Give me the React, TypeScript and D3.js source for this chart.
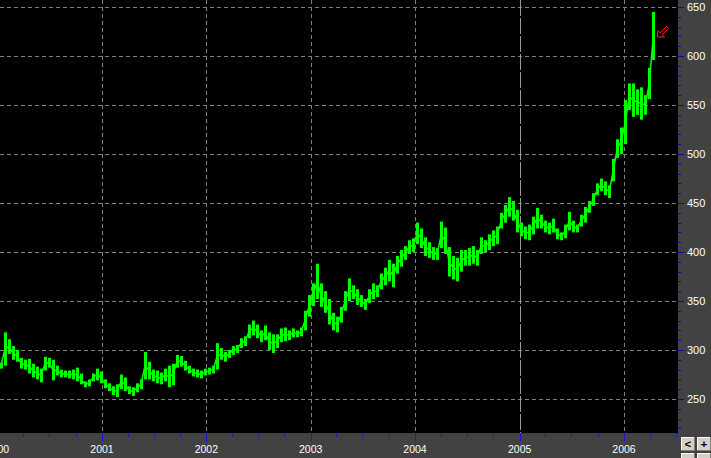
import React from "react";
import * as d3 from "d3";

const START = new Date(2000, 0, 10);
const STEP_DAYS = 14;

const highs = [
  287, 318, 311, 304, 300, 292, 290, 291, 286, 283, 281, 293, 292, 290, 284, 280, 279, 279, 280, 282,
  276, 268, 270, 276, 281, 278, 270, 266, 263, 265, 275, 272, 263, 262, 266, 270, 298, 288, 280, 279,
  277, 281, 284, 286, 295, 294, 289, 284, 281, 280, 279, 281, 282, 284, 307, 302, 298, 300, 304, 305,
  312, 314, 326, 330, 326, 320, 325, 318, 316, 316, 322, 323, 320, 322, 320, 323, 340, 356, 368, 388,
  368, 360, 352, 338, 334, 344, 360, 373, 366, 362, 356, 352, 362, 368, 366, 378, 384, 392, 388, 396,
  402, 406, 412, 414, 430, 424, 415, 410, 405, 404, 431, 425, 405, 396, 394, 402, 402, 404, 406, 402,
  415, 412, 418, 422, 426, 440, 448, 456, 452, 443, 430, 426, 428, 436, 445, 438, 432, 430, 434, 424,
  420, 428, 441, 432, 428, 438, 446, 452, 460, 470, 475, 472, 468, 495, 515, 527, 555, 572, 572, 566,
  568, 560, 588, 645,
];
const lows = [
  281, 284, 296, 290, 288, 281, 280, 276, 272, 270, 267, 279, 282, 269, 274, 272, 272, 271, 270, 268,
  265, 262, 263, 268, 269, 266, 261, 258, 254, 252, 260, 258, 255, 253, 257, 260, 270, 270, 268, 266,
  265, 268, 262, 264, 282, 283, 279, 276, 273, 272, 271, 274, 275, 276, 280, 290, 288, 292, 295, 297,
  302, 304, 312, 315, 312, 308, 310, 300, 297, 302, 308, 309, 310, 313, 313, 314, 320, 334, 345, 352,
  344, 338, 326, 320, 318, 328, 340, 350, 352, 346, 344, 341, 348, 352, 354, 362, 366, 370, 364, 378,
  385, 392, 398, 400, 408, 404, 396, 394, 392, 392, 404, 398, 375, 372, 370, 380, 386, 386, 388, 386,
  398, 400, 402, 406, 408, 424, 430, 436, 432, 420, 416, 413, 412, 418, 424, 424, 420, 418, 420, 413,
  412, 414, 422, 420, 420, 426, 430, 440, 447, 458, 462, 458, 455, 472, 496, 500, 510, 545, 538, 540,
  535, 540, 556, 596,
];

const priceTicks = [250, 300, 350, 400, 450, 500, 550, 600, 650];
const yearTicks = [2000, 2001, 2002, 2003, 2004, 2005, 2006];

const W = 711;
const H = 458;
const PLOT_R = 678;
const PLOT_B = 433;

export default function App() {
  const x = d3.scaleTime().domain([new Date(2001, 0, 1), new Date(2006, 0, 1)]).range([102, 624]);
  const y = d3.scaleLinear().domain([250, 650]).range([399, 7]);

  const bars = highs.map((h, i) => ({
    date: d3.timeDay.offset(START, STEP_DAYS * i),
    hi: h,
    lo: lows[i],
  }));

  const midLine = d3
    .line<any>()
    .x((d) => x(d.date) + 1)
    .y((d) => y((d.hi + d.lo) / 2));

  const minorPrice = d3.range(200, 680, 10);
  const quarters: Date[] = [];
  for (let yr = 1999; yr <= 2006; yr++) {
    for (let q = 0; q < 4; q++) quarters.push(new Date(yr, q * 3, 1));
  }

  return (
    <svg
      width={W}
      height={H}
      style={{ position: "absolute", left: 0, top: 0, display: "block" }}
      fontFamily="'Liberation Sans', Arial, sans-serif"
    >
      <rect x={0} y={0} width={W} height={H} fill="#424242" />
      <rect x={0} y={0} width={PLOT_R} height={PLOT_B} fill="#000" />
      <clipPath id="plot">
        <rect x={0} y={0} width={PLOT_R} height={PLOT_B} />
      </clipPath>
      <g clipPath="url(#plot)">
        {priceTicks.map((v) => (
          <line key={v} x1={0} x2={PLOT_R} y1={y(v) + 0.5} y2={y(v) + 0.5} stroke="#808080" strokeDasharray="4,3" />
        ))}
        {yearTicks.map((yr) => {
          const xx = Math.round(x(new Date(yr, 0, 1))) + 0.5;
          const special = yr === 2005;
          return (
            <line
              key={yr}
              x1={xx}
              x2={xx}
              y1={0}
              y2={PLOT_B}
              stroke={special ? "#9a9a9a" : "#808080"}
              strokeDasharray={special ? "16,2" : "4,3"}
            />
          );
        })}
        <path d={midLine(bars) || ""} fill="none" stroke="#00ff00" strokeWidth={1.5} />
        {bars.map((b, i) => (
          <rect
            key={i}
            x={Math.round(x(b.date))}
            y={y(b.hi)}
            width={3}
            height={Math.max(1, y(b.lo) - y(b.hi))}
            fill="#00ff00"
          />
        ))}
        <g fill="none" stroke="#ff2020" strokeWidth={1}>
          <path d="M657,37 L658,30.5 L660.2,32.8 L666.5,26.5 L668.5,28.5 L662.2,34.8 L664.5,37 Z" />
        </g>
      </g>
      {/* right axis */}
      {minorPrice.map((v) => {
        const yy = Math.round(y(v)) + 0.5;
        if (yy < 0 || yy > PLOT_B) return null;
        const major = v % 50 === 0;
        return <line key={v} x1={PLOT_R} x2={PLOT_R + (major ? 6 : 3)} y1={yy} y2={yy} stroke="#0a0aa0" />;
      })}
      {priceTicks.map((v) => (
        <text key={v} x={687} y={y(v) + 4} fontSize={11} fill="#fff">
          {v}
        </text>
      ))}
      {/* bottom axis */}
      {quarters.map((d, i) => {
        const xx = Math.round(x(d)) + 0.5;
        if (xx < 0 || xx > PLOT_R) return null;
        const major = d.getMonth() === 0;
        return <line key={i} x1={xx} x2={xx} y1={PLOT_B} y2={PLOT_B + (major ? 8 : 4)} stroke="#1414e6" />;
      })}
      {yearTicks.map((yr) => (
        <text key={yr} x={x(new Date(yr, 0, 1))} y={453} fontSize={10.5} fill="#fff" textAnchor="middle">
          {yr}
        </text>
      ))}
      {/* buttons */}
      {[
        { bx: 681, by: 437, label: "<" },
        { bx: 697, by: 437, label: "+" },
        { bx: 681, by: 453, label: "" },
        { bx: 697, by: 453, label: "" },
      ].map((b, i) => (
        <g key={i}>
          <rect x={b.bx} y={b.by} width={14} height={14} fill="#d4d0c8" />
          <line x1={b.bx} x2={b.bx + 14} y1={b.by + 0.5} y2={b.by + 0.5} stroke="#fff" />
          <line x1={b.bx + 0.5} x2={b.bx + 0.5} y1={b.by} y2={b.by + 14} stroke="#fff" />
          <line x1={b.bx} x2={b.bx + 14} y1={b.by + 13.5} y2={b.by + 13.5} stroke="#808080" />
          <line x1={b.bx + 13.5} x2={b.bx + 13.5} y1={b.by} y2={b.by + 14} stroke="#808080" />
          {b.label && (
            <text x={b.bx + 7} y={b.by + 11} fontSize={11} fill="#000" textAnchor="middle" fontWeight="bold">
              {b.label}
            </text>
          )}
        </g>
      ))}
    </svg>
  );
}
